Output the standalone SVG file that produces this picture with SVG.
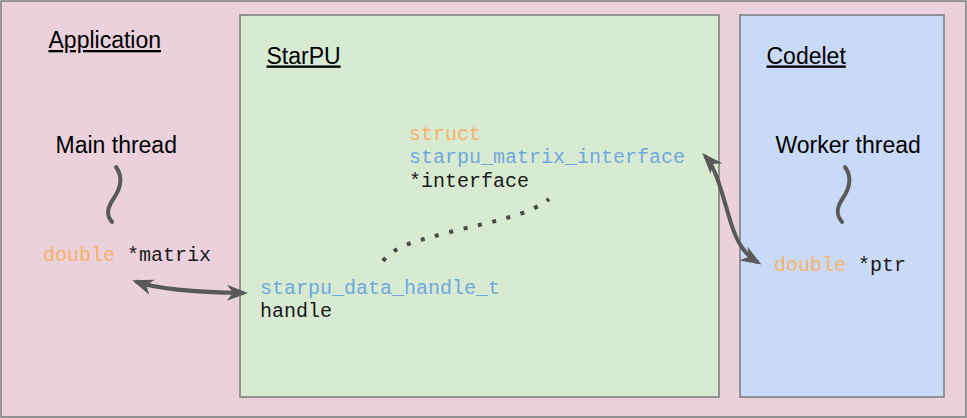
<svg xmlns="http://www.w3.org/2000/svg" width="967" height="418" viewBox="0 0 967 418">
<style>
.box{stroke:#7a7a7a;stroke-width:1.5}
.title{font-family:"Liberation Sans",Arial,sans-serif;font-size:23px;fill:#000;text-decoration:underline}
.label{font-family:"Liberation Sans",Arial,sans-serif;font-size:23px;fill:#000}
.code{font-family:"Liberation Mono","Courier New",monospace;font-size:20px;fill:#1a1a1a}
.kw{fill:#f6b26b}
.ty{fill:#6fa8dc}
.wave{fill:none;stroke:#595959;stroke-width:4;stroke-linecap:round}
.arrow{fill:none;stroke:#595959;stroke-width:4;marker-start:url(#ah);marker-end:url(#ah)}
.dots{fill:none;stroke:#4a4a4a;stroke-width:4;stroke-dasharray:4 10.7}
</style>
<defs>
<marker id="ah" markerUnits="userSpaceOnUse" markerWidth="24" markerHeight="20" refX="17" refY="9" orient="auto-start-reverse" overflow="visible">
<path d="M0,1 L21,9 L0,17 L6,9 Z" fill="#595959"/>
</marker>
</defs>
<g id="application">
<rect class="box" x="1" y="1" width="965" height="416" fill="#ead1dc" stroke-width="2"/>
<text class="title" x="48.5" y="48">Application</text>
<text class="label" x="55.5" y="153">Main thread</text>
<path class="wave" d="M116,167 C124,178 120,189 114,198 C107,208 106,215 112,222"/>
<text class="code" x="43" y="261"><tspan class="kw">double</tspan> *matrix</text>
</g>
<g id="starpu">
<rect class="box" x="240" y="15" width="479" height="382" fill="#d9ead3"/>
<text class="title" x="266.5" y="63.5">StarPU</text>
<text class="code" x="409" y="139.5"><tspan class="kw">struct</tspan></text>
<text class="code ty" x="409" y="163">starpu_matrix_interface</text>
<text class="code" x="409" y="186.5">*interface</text>
<text class="code ty" x="260" y="293.5">starpu_data_handle_t</text>
<text class="code" x="260" y="317">handle</text>
</g>
<g id="codelet">
<rect class="box" x="740" y="15" width="204" height="382" fill="#c9daf8"/>
<text class="title" x="766.5" y="63.5">Codelet</text>
<text class="label" x="775.5" y="153">Worker thread</text>
<path class="wave" d="M845,167 C853,178 849,189 843,198 C836,208 836,215 842,222"/>
<text class="code" x="774" y="271"><tspan class="kw">double</tspan> *ptr</text>
</g>
<g id="connectors">
<path class="arrow" d="M136,281.5 Q165,292 244,293"/>
<path class="arrow" d="M705,156 C716,168 721,190 730,220 C737,243 744,254 758,262.5"/>
<path class="dots" d="M383,261 C395,245 420,240 450,232 C490,222 530,215 549,199"/>
</g>
</svg>
